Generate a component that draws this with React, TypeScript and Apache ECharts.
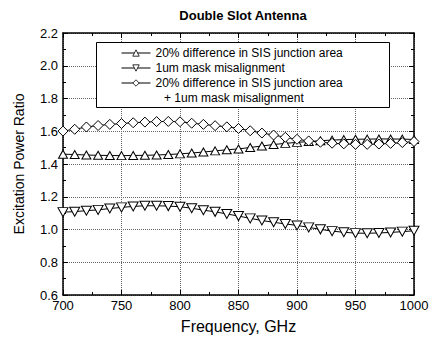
import React, { useEffect, useRef } from "react";
import * as echarts from "echarts";

const freq = [700, 710, 720, 730, 740, 750, 760, 770, 780, 790, 800, 810, 820, 830, 840, 850, 860, 870, 880, 890, 900, 910, 920, 930, 940, 950, 960, 970, 980, 990, 1000];

const areaDiff = [1.460, 1.458, 1.455, 1.453, 1.452, 1.451, 1.452, 1.453, 1.455, 1.458, 1.462, 1.467, 1.473, 1.480, 1.487, 1.492, 1.501, 1.510, 1.519, 1.526, 1.532, 1.537, 1.542, 1.546, 1.549, 1.551, 1.552, 1.553, 1.553, 1.552, 1.550];

const maskMis = [1.106, 1.109, 1.115, 1.120, 1.128, 1.135, 1.141, 1.145, 1.145, 1.143, 1.139, 1.130, 1.118, 1.108, 1.095, 1.082, 1.068, 1.055, 1.044, 1.034, 1.025, 1.013, 1.001, 0.990, 0.983, 0.978, 0.977, 0.979, 0.982, 0.987, 0.992];

const both = [1.601, 1.612, 1.626, 1.635, 1.642, 1.647, 1.652, 1.656, 1.659, 1.660, 1.658, 1.649, 1.642, 1.634, 1.627, 1.617, 1.603, 1.589, 1.577, 1.563, 1.551, 1.541, 1.533, 1.527, 1.523, 1.520, 1.520, 1.522, 1.526, 1.531, 1.537];

const seriesNames = [
  "20% difference in SIS junction area",
  "1um mask misalignment",
  "20% difference in SIS junction area ",
];
const extraLegendLine = "+ 1um mask misalignment";

const FONT = "Liberation Sans, Arial, Helvetica, sans-serif";

export default function App() {
  const ref = useRef<HTMLDivElement>(null);
  useEffect(() => {
    if (!ref.current) return;
    const chart = echarts.init(ref.current, null, { renderer: "svg" });
    const pairs = (ys: number[]) => freq.map((f, i) => [f, ys[i]]);
    const frameLine = { color: "#000", width: 1.5 };
    const tick = { show: true, inside: true, length: 5, lineStyle: { color: "#000", width: 1 } };
    const minor = { show: true, splitNumber: 2, length: 3, lineStyle: { color: "#000", width: 1 } };
    const grid = { show: true, lineStyle: { color: "#666", type: "dotted", width: 1 } };
    const label = { color: "#000", fontSize: 13, fontFamily: FONT };
    const baseSeries = {
      type: "line",
      symbolSize: 9,
      lineStyle: { color: "#000", width: 1 },
      itemStyle: { color: "#fff", borderColor: "#000", borderWidth: 1 },
      z: 5,
    };
    chart.setOption({
      animation: false,
      backgroundColor: "#fff",
      textStyle: { fontFamily: FONT },
      title: {
        text: "Double Slot Antenna",
        left: 238,
        textAlign: "center",
        top: 4,
        textStyle: { fontSize: 13, fontWeight: "bold", color: "#000", fontFamily: FONT },
      },
      grid: { left: 63, right: 19, top: 33, bottom: 52 },
      legend: {
        orient: "vertical",
        left: 121,
        top: 47,
        padding: 0,
        itemWidth: 29,
        itemHeight: 8,
        itemGap: 3,
        z: 20,
        itemStyle: { color: "#fff", borderColor: "#000", borderWidth: 0.8 },
        lineStyle: { color: "#000", width: 1 },
        textStyle: { fontSize: 12, color: "#000", fontFamily: FONT },
        data: seriesNames,
      },
      graphic: [
        {
          type: "rect",
          z: 10,
          shape: { x: 96.5, y: 42.5, width: 293, height: 65 },
          style: { fill: "#fff", stroke: "#000", lineWidth: 1 },
        },
        {
          type: "text",
          left: 164,
          top: 92,
          z: 100,
          style: { text: extraLegendLine, fontSize: 12, fill: "#000", fontFamily: FONT },
        },
      ],
      xAxis: [
        {
          type: "value",
          min: 700,
          max: 1000,
          interval: 50,
          position: "bottom",
          axisLine: { show: true, lineStyle: frameLine },
          axisTick: tick,
          minorTick: minor,
          splitLine: grid,
          axisLabel: { ...label, margin: 4, formatter: (v: number) => String(v) },
          name: "Frequency, GHz",
          nameLocation: "middle",
          nameGap: 23,
          nameTextStyle: { fontSize: 16, color: "#000", fontFamily: FONT },
        },
        {
          type: "value",
          min: 700,
          max: 1000,
          interval: 50,
          position: "top",
          axisLine: { show: true, lineStyle: frameLine },
          axisTick: tick,
          minorTick: minor,
          splitLine: { show: false },
          axisLabel: { show: false },
        },
      ],
      yAxis: [
        {
          type: "value",
          min: 0.6,
          max: 2.2,
          interval: 0.2,
          position: "left",
          axisLine: { show: true, lineStyle: frameLine },
          axisTick: tick,
          minorTick: minor,
          splitLine: grid,
          axisLabel: { ...label, margin: 5, formatter: (v: number) => v.toFixed(1) },
          name: "Excitation Power Ratio",
          nameLocation: "middle",
          nameGap: 37,
          nameTextStyle: { fontSize: 14, color: "#000", fontFamily: FONT },
        },
        {
          type: "value",
          min: 0.6,
          max: 2.2,
          interval: 0.2,
          position: "right",
          axisLine: { show: true, lineStyle: frameLine },
          axisTick: tick,
          minorTick: minor,
          splitLine: { show: false },
          axisLabel: { show: false },
        },
      ],
      series: [
        { ...baseSeries, name: seriesNames[0], symbol: "triangle", symbolSize: [9, 8], data: pairs(areaDiff) },
        { ...baseSeries, name: seriesNames[1], symbol: "path://M0,0 L10,0 L5,9 Z", symbolSize: [10, 9], data: pairs(maskMis) },
        { ...baseSeries, name: seriesNames[2], symbol: "diamond", symbolSize: [10, 10], data: pairs(both) },
      ],
    });
    return () => chart.dispose();
  }, []);
  return <div ref={ref} style={{ position: "fixed", left: 0, top: 0, width: 433, height: 347 }} />;
}
